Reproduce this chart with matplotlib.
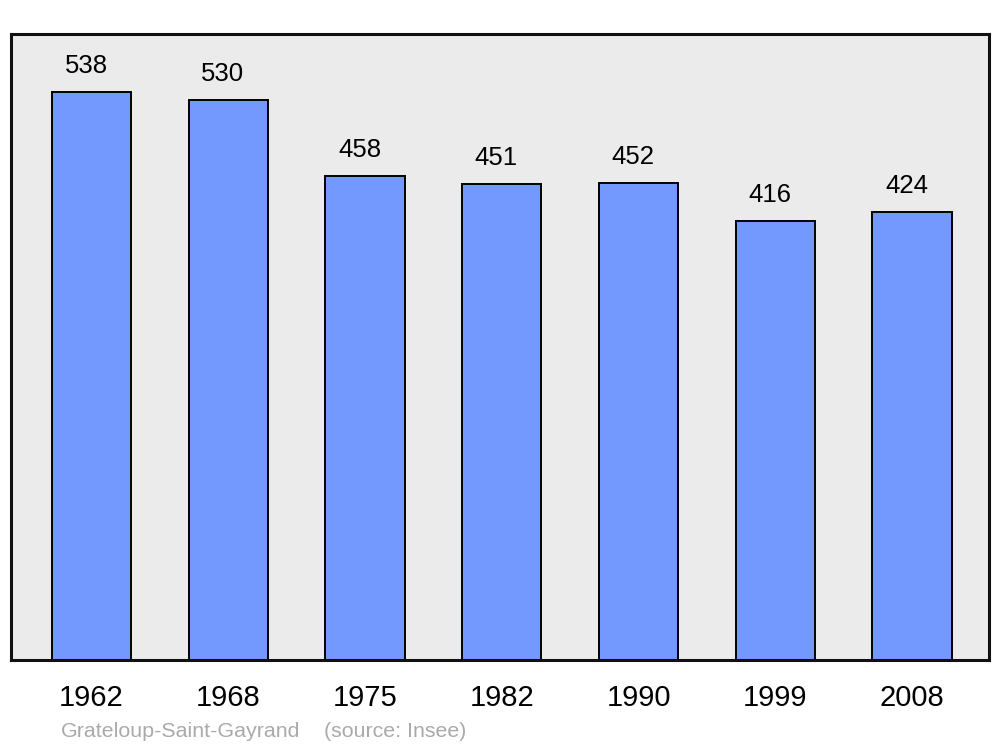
import matplotlib
matplotlib.use("Agg")
import matplotlib.pyplot as plt

years = ["1962", "1968", "1975", "1982", "1990", "1999", "2008"]
population = [538, 530, 458, 451, 452, 416, 424]
footer_name = "Grateloup-Saint-Gayrand"
footer_source = "(source: Insee)"

plt.rcParams['font.family'] = ['Liberation Sans', 'DejaVu Sans']

fig = plt.figure(figsize=(10, 7.47), dpi=100)
ax = fig.add_axes([0.011, 0.1165, 0.978, 0.838])
ax.set_facecolor('#ebebeb')

x = list(range(len(years)))
bars = ax.bar(x, population, width=0.58, color='#7399ff', edgecolor='black', linewidth=1.4)

for xi, v in zip(x, population):
    ax.annotate(str(v), (xi, v), xytext=(-4, 13.7), textcoords='offset points',
                ha='center', va='baseline', fontsize=18.5)

ax.set_xlim(-0.589, 6.563)
ax.set_ylim(0, 593)
ax.set_xticks(x)
ax.set_xticklabels(years, fontsize=21)
ax.tick_params(axis='x', length=0, pad=17)
ax.set_yticks([])
for s in ax.spines.values():
    s.set_linewidth(2.2)
    s.set_color('#111111')

fig.text(0.061, 0.0134, footer_name, color='#aaaaaa', fontsize=15.4,
         ha='left', va='baseline')
fig.text(0.324, 0.0134, footer_source, color='#aaaaaa', fontsize=15.4,
         ha='left', va='baseline')

fig.savefig("out.png", dpi=100, facecolor='white')
